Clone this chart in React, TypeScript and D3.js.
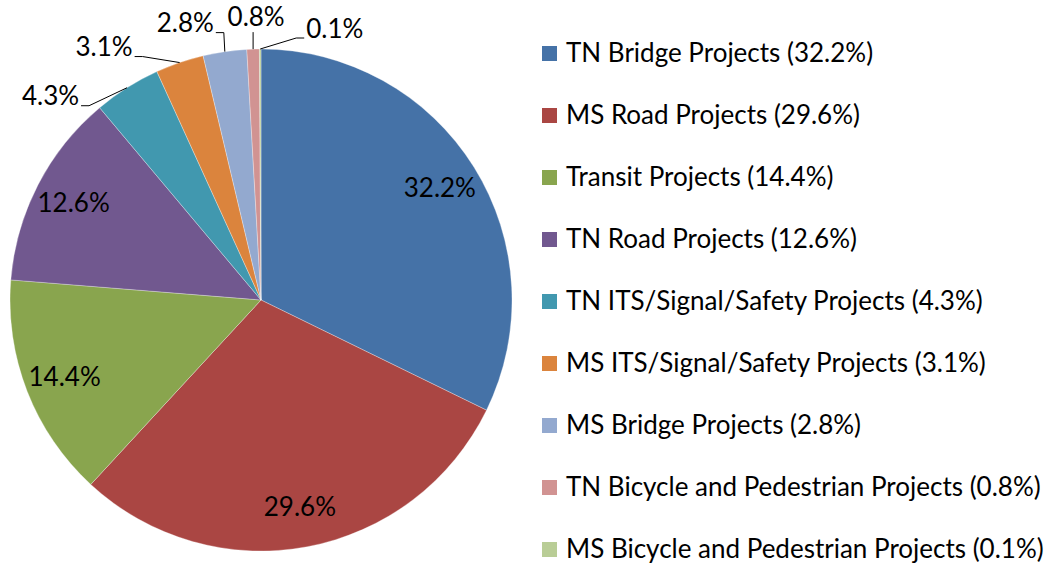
import React, { useEffect, useRef } from "react";
import * as d3 from "d3";

const categories = [
  "TN Bridge Projects",
  "MS Road Projects",
  "Transit Projects",
  "TN Road Projects",
  "TN ITS/Signal/Safety Projects",
  "MS ITS/Signal/Safety Projects",
  "MS Bridge Projects",
  "TN Bicycle and Pedestrian Projects",
  "MS Bicycle and Pedestrian Projects",
];
const shares = [32.2, 29.6, 14.4, 12.6, 4.3, 3.1, 2.8, 0.8, 0.1];
const colors = [
  "#4572A7",
  "#AA4643",
  "#89A54E",
  "#71588F",
  "#4198AF",
  "#DB843D",
  "#93A9CF",
  "#D19392",
  "#B9CD96",
];

// callout layout for the small slices: elbow offset from slice edge, side of the text
const callouts: Record<number, { ex: number; ey: number; side: string }> = {
  4: { ex: -38, ey: 18, side: "left" },
  5: { ex: -37, ey: -6, side: "left" },
  6: { ex: -1, ey: -19, side: "left" },
  7: { ex: 0, ey: -17, side: "up" },
  8: { ex: 36, ey: -11, side: "right" },
};

const W = 1052;
const H = 563;

const App = () => {
  const svgRef = useRef<SVGSVGElement>(null);

  useEffect(() => {
    document.body.style.margin = "0";
    const svg = d3.select(svgRef.current).attr("width", W).attr("height", H);
    svg.selectAll("*").remove();

    const font = "Lato, 'Open Sans', sans-serif";
    const fs = 26;
    const cx = 261;
    const cy = 300;
    const r = 251;

    const data = categories.map((c, i) => ({ name: c, value: shares[i], i }));
    const pie = d3
      .pie<any>()
      .sort(null)
      .value((d) => d.value);
    const arcs = pie(data);
    const arc = d3.arc<any>().innerRadius(0).outerRadius(r);
    const labelArc = d3.arc<any>().innerRadius(r * 0.84).outerRadius(r * 0.84);
    const edgeArc = d3.arc<any>().innerRadius(r).outerRadius(r);

    const g = svg.append("g").attr("transform", `translate(${cx},${cy})`);

    g.selectAll("path.slice")
      .data(arcs)
      .join("path")
      .attr("class", "slice")
      .attr("d", arc)
      .attr("fill", (d) => colors[d.data.i])
      .attr("stroke", "#ffffff")
      .attr("stroke-opacity", 0.5)
      .attr("stroke-width", 0.6);

    // inside labels
    g.selectAll("text.inside")
      .data(arcs.filter((d) => d.data.value >= 10))
      .join("text")
      .attr("class", "inside")
      .attr("transform", (d) => {
        const [x, y] = labelArc.centroid(d);
        return `translate(${x},${y})`;
      })
      .attr("text-anchor", "middle")
      .attr("dy", "0.35em")
      .style("font-family", font)
      .style("font-size", fs + "px")
      .attr("fill", "#000")
      .text((d) => d.data.value.toFixed(1) + "%");

    // outside callouts
    arcs
      .filter((d) => callouts[d.data.i])
      .forEach((d) => {
        const c = callouts[d.data.i];
        const [x0, y0] = edgeArc.centroid(d);
        const ex = x0 + c.ex;
        const ey = y0 + c.ey;
        let pts: [number, number][];
        let tx = 0;
        let ty = 0;
        let anchor = "middle";
        if (c.side === "left") {
          pts = [[x0, y0], [ex, ey], [ex - 8, ey]];
          tx = ex - 10;
          ty = ey - 1;
          anchor = "end";
        } else if (c.side === "right") {
          pts = [[x0, y0], [ex, ey], [ex + 8, ey]];
          tx = ex + 10;
          ty = ey;
          anchor = "start";
        } else {
          pts = [[x0, y0], [ex, ey]];
          tx = ex + 3;
          ty = ey - 6;
        }
        g.append("path")
          .attr("d", d3.line()(pts))
          .attr("fill", "none")
          .attr("stroke", "#000")
          .attr("stroke-width", 1);
        g.append("text")
          .attr("x", tx)
          .attr("y", ty)
          .attr("text-anchor", anchor)
          .style("font-family", font)
          .style("font-size", fs + "px")
          .attr("fill", "#000")
          .text(d.data.value.toFixed(1) + "%");
      });

    // legend
    const ly = d3
      .scalePoint<string>()
      .domain(categories)
      .range([53, 549]);
    const legend = svg.append("g");
    const items = legend
      .selectAll("g.item")
      .data(data)
      .join("g")
      .attr("class", "item")
      .attr("transform", (d) => `translate(542,${ly(d.name)})`);
    items
      .append("rect")
      .attr("x", 0)
      .attr("y", -7)
      .attr("width", 15)
      .attr("height", 15)
      .attr("fill", (d) => colors[d.i]);
    items
      .append("text")
      .attr("x", 24)
      .attr("dy", "0.35em")
      .style("font-family", font)
      .style("font-size", fs + "px")
      .attr("fill", "#000")
      .text((d) => `${d.name} (${d.value.toFixed(1)}%)`);
  }, []);

  return <svg ref={svgRef} style={{ display: "block", background: "#fff" }}></svg>;
};

export default App;
